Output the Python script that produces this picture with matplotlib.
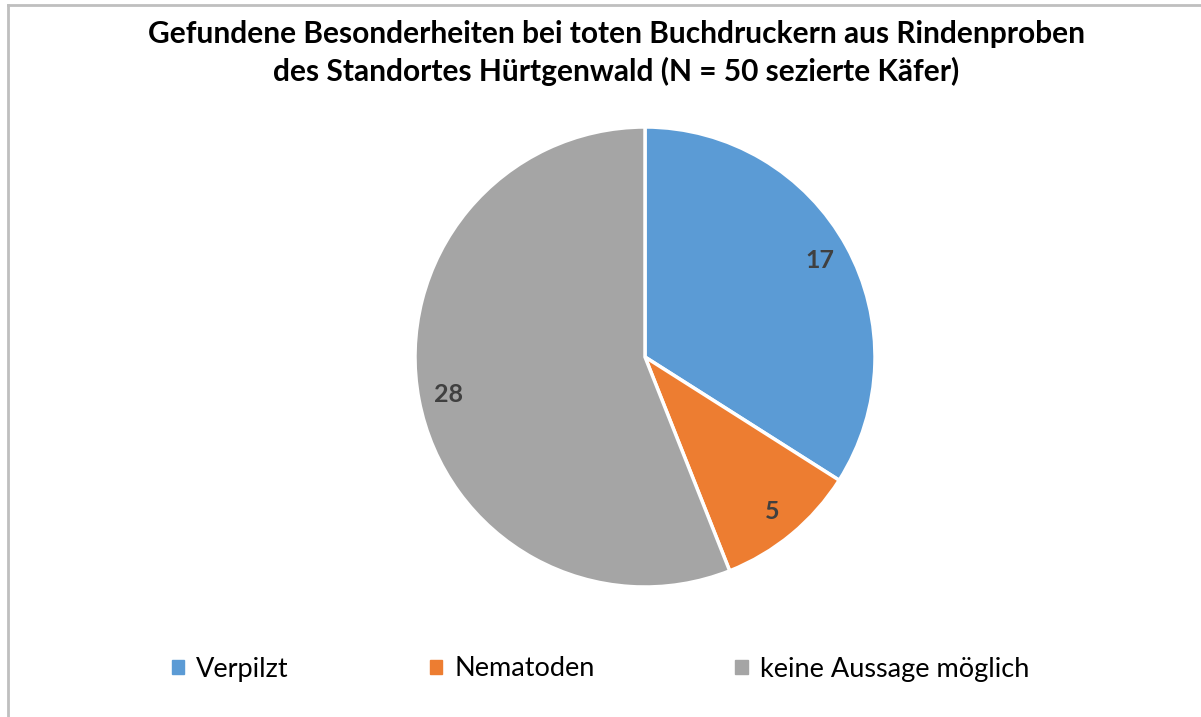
import matplotlib.pyplot as plt
from matplotlib.lines import Line2D

# ==================== Data ====================
categories = ["Verpilzt", "Nematoden", "keine Aussage möglich"]
counts = [17, 5, 28]
colors = ["#5B9BD5", "#ED7D31", "#A5A5A5"]
title = ("Gefundene Besonderheiten bei toten Buchdruckern aus Rindenproben\n"
         "des Standortes Hürtgenwald (N = 50 sezierte Käfer)")

plt.rcParams['font.family'] = ['Lato', 'DejaVu Sans']

W, H = 1201, 717
fig = plt.figure(figsize=(W / 100, H / 100), dpi=100)

# chart frame (only top and left edges visible)
fig.add_artist(Line2D([7.5 / W, 7.5 / W], [0, 1 - 5 / H], color="#BFBFBF", lw=2))
fig.add_artist(Line2D([7.5 / W, 1], [1 - 5 / H, 1 - 5 / H], color="#BFBFBF", lw=2))

# pie axes: center (645, 357), radius 230 px
cx, cy, r = 645, 357, 230
ax = fig.add_axes([(cx - r) / W, 1 - (cy + r) / H, 2 * r / W, 2 * r / H])
wedges, texts, autotexts = ax.pie(
    counts, colors=colors, startangle=90, counterclock=False, radius=1,
    autopct=lambda p: f"{round(p * sum(counts) / 100):d}", pctdistance=0.87,
    wedgeprops=dict(edgecolor="white", linewidth=2.5),
)
for t in autotexts:
    t.set_fontsize(18)
    t.set_fontweight("bold")
    t.set_color("#404040")
ax.set_xlim(-1, 1)
ax.set_ylim(-1, 1)
ax.set_aspect("equal")
ax.axis("off")

fig.text(0.513, 1 - 53 / H, title, ha="center", va="center", fontsize=21.5,
         fontweight="bold", color="black", linespacing=1.4)

# legend
handles = [plt.Rectangle((0, 0), 1, 1, color=c) for c in colors]
fig.legend(handles, categories, loc="center", bbox_to_anchor=(0.5, 1 - 669 / H),
           ncol=3, frameon=False, fontsize=19.5, handlelength=0.45, handleheight=0.45,
           handletextpad=0.45, columnspacing=5.2)

fig.savefig("out.png", dpi=100, facecolor="white")
